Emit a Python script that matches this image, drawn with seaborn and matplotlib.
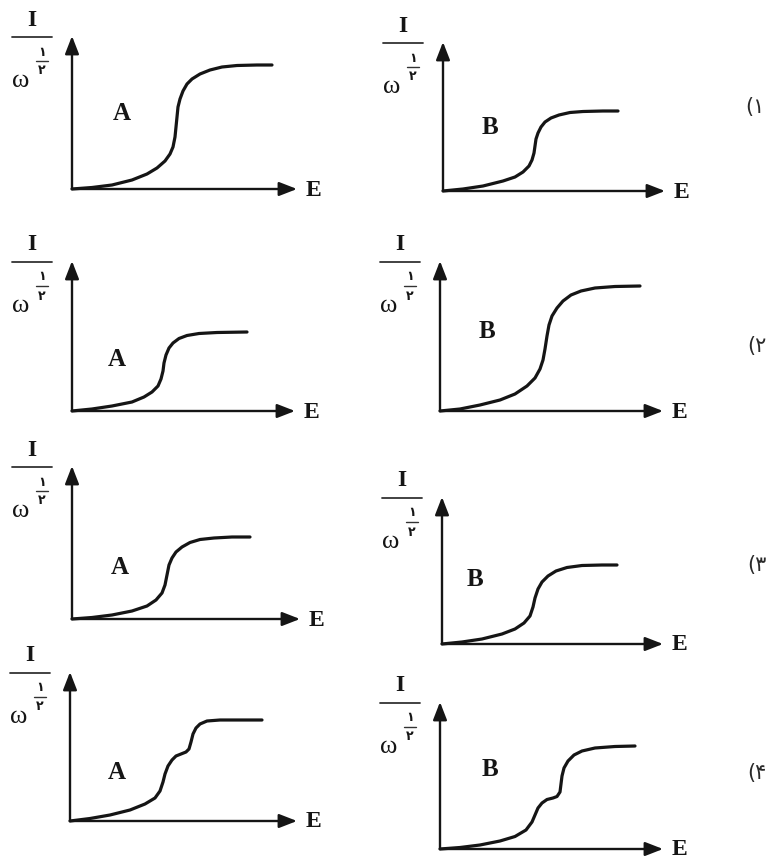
import matplotlib
matplotlib.use("Agg")
import matplotlib.pyplot as plt
from matplotlib.lines import Line2D
import seaborn as sns

# ---------------- data (E, I/w^1/2 in arbitrary units) -------------
E_1A = [0, 20, 40, 60, 75, 85, 93, 98, 101, 103, 104, 105, 106, 108, 111, 115, 120,
        128, 138, 150, 165, 185, 200]
I_1A = [0, 1.5, 4, 9, 15, 21, 28, 35, 42, 52, 62, 72, 82, 90, 98, 105, 110,
        115, 119, 122, 123.5, 124, 124]

E_1B = [0, 20, 40, 60, 72, 80, 86, 89, 91, 92, 93, 95, 98, 102, 108, 116, 127, 140,
        160, 175]
I_1B = [0, 2, 5, 10, 14, 19, 25, 31, 38, 45, 52, 58, 64, 69, 73, 76, 78.5, 79.5,
        80, 80]

E_2A = [0, 20, 40, 60, 72, 80, 86, 89, 91, 92, 94, 97, 101, 107, 115, 127, 145, 175]
I_2A = [0, 2, 5, 9, 14, 19, 25, 32, 40, 48, 56, 63, 68, 72.5, 75.5, 77.5, 78.5, 79]

E_2B = [0, 20, 40, 60, 75, 87, 95, 100, 103, 105, 107, 109, 112, 117, 123, 131, 141,
        155, 175, 200]
I_2B = [0, 2, 6, 11, 17, 25, 33, 42, 51, 62, 75, 86, 95, 103, 110, 116, 120,
        123, 124.5, 125]

E_3A = [0, 20, 40, 60, 75, 84, 90, 93, 95, 97, 100, 104, 110, 118, 128, 142, 160, 178]
I_3A = [0, 1.5, 4, 8, 13, 19, 26, 34, 44, 54, 61, 67, 72, 76.5, 79.5, 81, 82, 82]

E_3B = [0, 20, 40, 60, 73, 82, 88, 91, 93, 96, 100, 106, 114, 125, 140, 160, 175]
I_3B = [0, 2, 5, 10, 15, 21, 28, 37, 46, 55, 62, 68, 73, 76.5, 78.5, 79, 79]

E_4A = [0, 20, 40, 60, 75, 85, 90, 93, 95, 98, 102, 106, 111, 116, 119, 121, 123,
        126, 130, 137, 150, 170, 192]
I_4A = [0, 2.5, 6, 11, 17, 23, 30, 39, 47, 55, 61, 65, 67, 69, 72, 79, 87,
        93, 97, 100, 101, 101, 101]

E_4B = [0, 20, 40, 60, 75, 86, 92, 95, 98, 102, 107, 113, 117, 120, 121, 122, 124,
        128, 134, 142, 155, 175, 195]
I_4B = [0, 1.5, 4, 8, 12.5, 19, 27, 34, 41, 46, 49.5, 51, 52.5, 57, 65, 73, 81,
        88, 94, 98, 101, 102.5, 103]

panel_letters = ["A", "B", "A", "B", "A", "B", "A", "B"]
row_labels = ["(۱", "(۲", "(۳", "(۴"]
x_label = "E"
y_label_num = "I"
y_label_den = "ω"
exp_num = "۱"
exp_den = "۲"

curves = [(E_1A, I_1A), (E_1B, I_1B), (E_2A, I_2A), (E_2B, I_2B),
          (E_3A, I_3A), (E_3B, I_3B), (E_4A, I_4A), (E_4B, I_4B)]

# ---------------- layout (pixels) ----------------
W, H = 771, 862
# origin x, origin y, x-arrow tip, y-arrow top
frames = [(72, 190, 297, 37), (443, 192, 665, 43),
          (72, 412, 295, 262), (440, 412, 663, 262),
          (72, 620, 300, 467), (442, 645, 663, 498),
          (70, 822, 297, 673), (440, 850, 663, 703)]
letter_pos = [(122, 113), (490, 128), (117, 360), (487, 332),
              (120, 567), (475, 580), (117, 773), (490, 770)]
row_pos = [(755, 107), (757, 346), (757, 565), (757, 773)]

sns.set_theme(style="white")
plt.rcParams["font.family"] = ["Liberation Serif", "DejaVu Sans"]

fig = plt.figure(figsize=(W / 100, H / 100), dpi=100)
fig.patch.set_facecolor("white")

INK = "#151515"


def fx(x):
    return x / W


def fy(y):
    return 1 - y / H


for k, ((E, I), (x0, y0, xt, yt)) in enumerate(zip(curves, frames)):
    ax = fig.add_axes([fx(x0), fy(y0), (xt - x0) / W, (y0 - yt) / H])
    ax.set_xlim(0, xt - x0)
    ax.set_ylim(0, y0 - yt)
    ax.axis("off")
    arrow = dict(arrowstyle="-|>,head_length=0.9,head_width=0.35", lw=1.7,
                 color=INK, shrinkA=0, shrinkB=0)
    ax.annotate("", xy=(xt - x0, 0), xytext=(0, 0), arrowprops=arrow,
                annotation_clip=False)
    ax.annotate("", xy=(0, y0 - yt), xytext=(0, 0), arrowprops=arrow,
                annotation_clip=False)
    sns.lineplot(x=E, y=I, ax=ax, color=INK, lw=2.3, clip_on=False,
                 estimator=None, sort=False, solid_joinstyle="round",
                 solid_capstyle="round")

    # axis labels
    fig.text(fx(xt + 16), fy(y0), x_label, ha="center", va="center",
             fontsize=17, fontweight="bold", color=INK)
    fig.text(fx(x0 - 40), fy(yt - 17), y_label_num, ha="center", va="center",
             fontsize=17, fontweight="bold", color=INK)
    fig.add_artist(Line2D([fx(x0 - 60), fx(x0 - 20)], [fy(yt + 1), fy(yt + 1)],
                          color="#333333", lw=1.3))
    fig.text(fx(x0 - 51), fy(yt + 44), y_label_den, ha="center", va="center",
             fontsize=19, color=INK)
    fig.text(fx(x0 - 30), fy(yt + 15), exp_num, ha="center", va="center",
             fontsize=9, fontweight="bold", color=INK,
             family=["DejaVu Sans"])
    fig.add_artist(Line2D([fx(x0 - 36), fx(x0 - 24)], [fy(yt + 25), fy(yt + 25)],
                          color="#333333", lw=1.0))
    fig.text(fx(x0 - 30), fy(yt + 34), exp_den, ha="center", va="center",
             fontsize=9, fontweight="bold", color=INK,
             family=["DejaVu Sans"])

    lx, ly = letter_pos[k]
    fig.text(fx(lx), fy(ly), panel_letters[k], ha="center", va="center",
             fontsize=18, fontweight="bold", color=INK)

for lab, (rx, ry) in zip(row_labels, row_pos):
    fig.text(fx(rx), fy(ry), lab, ha="center", va="center", fontsize=15,
             color="#2a2a2a", family=["DejaVu Sans"])

fig.savefig("out.png", dpi=100, facecolor="white")
